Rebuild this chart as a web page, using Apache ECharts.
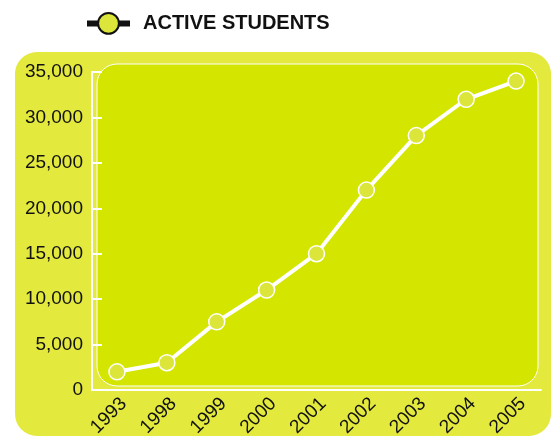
<!DOCTYPE html>
<html>
<head>
<meta charset="utf-8">
<script src="https://cdn.jsdelivr.net/npm/echarts@6/dist/echarts.min.js"></script>
<style>
  html, body { margin: 0; padding: 0; background: #fff; }
  #chart { width: 553px; height: 436px; }
</style>
</head>
<body>
<div id="chart"></div>
<script>
const years = ['1993', '1998', '1999', '2000', '2001', '2002', '2003', '2004', '2005']
const activeStudents = [2000, 3000, 7500, 11000, 15000, 22000, 28000, 32000, 34000]

const chart = echarts.init(document.getElementById('chart'))
const option = {
  animation: false,
  textStyle: { fontFamily: 'Liberation Sans, Arial, sans-serif' },
  graphic: [
    // outer panel
    {
      type: 'rect', z: -10,
      shape: { x: 15, y: 52, width: 536, height: 384, r: 22 },
      style: { fill: '#e3e93d' }
    },
    // inner plot panel
    {
      type: 'rect', z: -9,
      shape: { x: 97, y: 64, width: 441, height: 322, r: 20 },
      style: { fill: '#d4e600', stroke: '#ffffff', lineWidth: 1 }
    }
  ],
  legend: {
    data: ['ACTIVE STUDENTS'],
    left: 79,
    top: 7,
    itemWidth: 43,
    itemHeight: 26,
    lineStyle: { color: '#111', width: 6 },
    itemStyle: { color: '#dce63a', borderColor: '#111', borderWidth: 2 },
    textStyle: { fontSize: 20, fontWeight: 'bold', color: '#111', padding: [0, 0, 0, 8] }
  },
  grid: { left: 92, right: 12, top: 72, bottom: 46, outerBoundsMode: 'none' },
  xAxis: {
    type: 'category',
    data: years,
    boundaryGap: true,
    axisLine: { lineStyle: { color: '#fff', width: 2 } },
    axisTick: { inside: true, length: 8, lineStyle: { color: '#fff', width: 2 } },
    axisLabel: { rotate: 45, fontSize: 19, color: '#111', margin: 4, align: 'right', verticalAlign: 'top' }
  },
  yAxis: {
    type: 'value',
    min: 0,
    max: 35000,
    interval: 5000,
    splitLine: { show: false },
    axisLine: { show: true, lineStyle: { color: '#fff', width: 2 } },
    axisTick: { show: true, inside: true, length: 10, lineStyle: { color: '#fff', width: 2 } },
    axisLabel: {
      fontSize: 19, color: '#111', margin: 9,
      formatter: function (v) { return v.toLocaleString('en-US') }
    }
  },
  series: [{
    name: 'ACTIVE STUDENTS',
    type: 'line',
    data: activeStudents,
    symbol: 'circle',
    symbolSize: 16,
    lineStyle: { color: '#fff', width: 4 },
    itemStyle: { color: '#dce63a', borderColor: '#fff', borderWidth: 1.5 }
  }]
}
chart.setOption(option)
</script>
</body>
</html>
